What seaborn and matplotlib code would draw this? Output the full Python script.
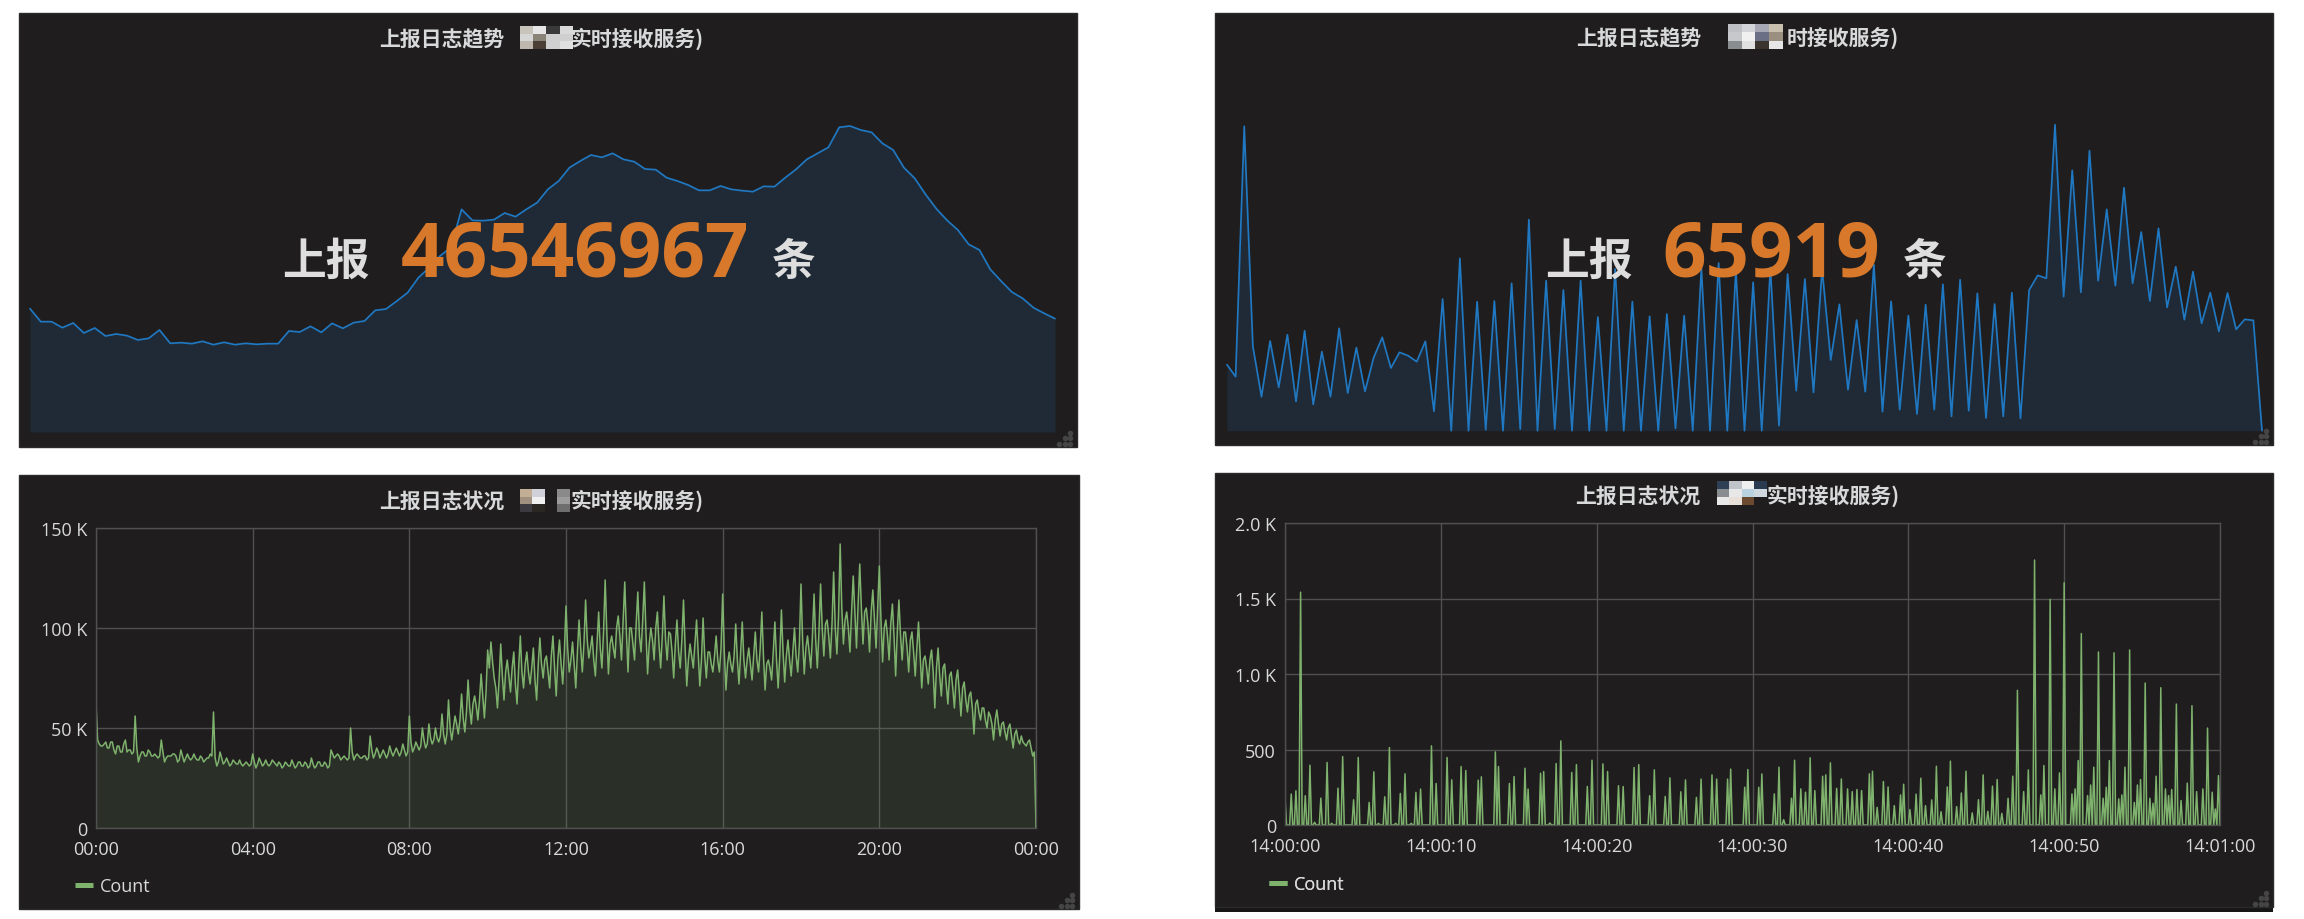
import numpy as np
import matplotlib
matplotlib.use("Agg")
import matplotlib.pyplot as plt
from matplotlib.colors import to_rgb
from matplotlib.lines import Line2D
from matplotlib.patches import Rectangle
import seaborn as sns

W, H = 2304, 920
PANEL = "#1f1d1e"
BLUE, GREEN = "#1F78C1", "#7EB26D"
TEXT = "#d8d9da"
ORANGE = "#d7782a"
GRID = "#505050"
CJK = ["Noto Sans CJK SC", "DejaVu Sans"]

# ---- top-left: 15-minute totals over a day (thousands, axis hidden in the source)
day_trend = [370, 331, 331, 313, 327, 297, 312, 288, 294, 289, 276, 281, 306, 266, 268, 265,
             272, 262, 269, 262, 266, 263, 265, 265, 303, 300, 317, 299, 326, 311, 328, 333,
             365, 369, 393, 418, 463, 493, 528, 553, 668, 635, 634, 637, 657, 646, 668, 688,
             728, 753, 793, 813, 831, 824, 836, 818, 811, 789, 787, 763, 753, 741, 725, 725,
             738, 728, 724, 721, 737, 736, 763, 788, 818, 836, 854, 914, 918, 906, 899, 866,
             846, 793, 761, 713, 670, 635, 606, 563, 546, 488, 453, 420, 401, 373, 356, 340]

# ---- top-right: half-second totals over a minute (relative heights, axis hidden)
minute_trend = [198, 162, 913, 253, 102, 269, 130, 288, 88, 300, 79, 237, 102, 307, 113, 249, 118,
                219, 280, 188, 235, 225, 207, 268, 58, 395, 0, 517, 0, 387, 3, 389, 0, 442, 5, 633,
                0, 450, 5, 422, 0, 450, 0, 341, 0, 485, 0, 387, 0, 343, 0, 350, 7, 345, 0, 487, 0,
                503, 0, 480, 0, 445, 0, 490, 15, 470, 120, 455, 115, 485, 212, 379, 123, 332, 117,
                498, 57, 388, 63, 345, 50, 378, 63, 439, 43, 453, 60, 412, 38, 380, 43, 414, 37,
                422, 466, 457, 918, 402, 781, 415, 840, 450, 664, 435, 729, 442, 596, 389, 607,
                370, 492, 333, 477, 322, 414, 298, 413, 304, 334, 331, 0]

# ---- bottom-left: counts through the day (K), readings on the 5-minute marks
day_counts = [62, 42, 41, 43, 40, 43, 37, 41, 38, 44, 39, 37,
              56, 33, 38, 36, 39, 36, 37, 35, 44, 33, 36, 36,
              37, 33, 39, 33, 37, 34, 37, 34, 36, 33, 35, 37,
              58, 31, 38, 32, 35, 31, 34, 32, 34, 31, 33, 31,
              37, 30, 35, 31, 34, 31, 34, 32, 33, 30, 33, 31,
              34, 30, 33, 31, 33, 30, 35, 30, 33, 31, 33, 30,
              39, 35, 37, 34, 36, 34, 50, 34, 37, 35, 36, 34,
              46, 35, 40, 35, 39, 35, 41, 36, 40, 36, 42, 36,
              56, 38, 43, 39, 50, 40, 52, 42, 50, 43, 57, 42,
              64, 44, 56, 47, 67, 48, 74, 52, 66, 54, 77, 55,
              89, 93, 75, 60, 92, 64, 84, 68, 88, 62, 96, 70,
              88, 72, 90, 64, 95, 75, 86, 70, 96, 66, 94, 72,
              111, 78, 93, 70, 104, 78, 114, 85, 96, 76, 108, 80,
              124, 77, 96, 85, 106, 84, 123, 78, 100, 84, 118, 88,
              123, 77, 100, 84, 108, 80, 116, 84, 97, 75, 104, 80,
              114, 71, 92, 80, 104, 71, 105, 75, 88, 78, 96, 78,
              117, 69, 88, 78, 102, 72, 103, 75, 90, 74, 98, 78,
              108, 69, 84, 74, 103, 70, 109, 73, 94, 76, 100, 78,
              122, 77, 96, 80, 117, 80, 122, 86, 104, 85, 128, 87,
              142, 92, 108, 88, 126, 90, 132, 92, 110, 88, 119, 90,
              131, 83, 104, 84, 112, 76, 114, 84, 98, 78, 98, 76,
              103, 70, 86, 72, 89, 60, 90, 66, 82, 62, 78, 60,
              79, 56, 73, 58, 68, 47, 64, 54, 60, 50, 56, 44,
              59, 46, 53, 44, 52, 40, 49, 42, 43, 41, 44, 36]
# readings halfway between those marks
day_counts_between = [44, 41, 42, 40, 43, 39, 41, 38, 42, 38, 39, 38,
                      40, 36, 38, 36, 38, 36, 36, 36, 38, 35, 36, 37,
                      36, 34, 36, 35, 35, 35, 35, 34, 35, 34, 35, 36,
                      35, 33, 35, 33, 33, 32, 33, 32, 32, 32, 32, 32,
                      33, 32, 33, 32, 32, 32, 33, 31, 32, 31, 32, 31,
                      32, 31, 33, 31, 32, 31, 32, 31, 33, 31, 32, 31,
                      37, 36, 36, 35, 35, 35, 38, 36, 36, 35, 36, 35,
                      39, 37, 38, 37, 37, 37, 38, 38, 38, 38, 39, 38,
                      43, 40, 41, 41, 44, 42, 45, 44, 45, 46, 47, 47,
                      50, 50, 52, 54, 55, 58, 60, 62, 61, 64, 66, 68,
                      80, 83, 70, 74, 76, 78, 76, 80, 72, 80, 78, 82,
                      78, 80, 74, 82, 82, 84, 78, 86, 80, 84, 82, 88,
                      90, 84, 82, 88, 90, 92, 94, 90, 84, 92, 90, 98,
                      98, 92, 90, 100, 96, 104, 98, 100, 92, 102, 96, 104,
                      98, 92, 94, 100, 92, 96, 94, 98, 88, 92, 88, 94,
                      90, 84, 86, 92, 88, 84, 86, 88, 82, 86, 84, 90,
                      88, 82, 82, 86, 84, 88, 84, 84, 82, 86, 84, 90,
                      86, 82, 80, 88, 84, 86, 88, 86, 84, 88, 86, 92,
                      94, 90, 88, 96, 94, 98, 100, 102, 96, 102, 100, 106,
                      110, 104, 100, 108, 108, 112, 110, 108, 102, 108, 104, 110,
                      104, 100, 96, 102, 96, 98, 96, 98, 90, 94, 88, 90,
                      86, 84, 80, 84, 78, 80, 76, 80, 72, 76, 70, 74,
                      68, 70, 64, 66, 60, 62, 58, 60, 54, 58, 52, 54,
                      52, 52, 48, 50, 46, 47, 44, 46, 42, 43, 40, 38]
day_last_count = 0
day_values = np.append(np.column_stack([day_counts, day_counts_between]).ravel(), day_last_count)
day_minutes = np.arange(len(day_values)) * 2.5
day_ticks = [0, 240, 480, 720, 960, 1200, 1440]
day_labels = ["00:00", "04:00", "08:00", "12:00", "16:00", "20:00", "00:00"]
day_yticks = [0, 50, 100, 150]
day_ylabels = ["0", "50 K", "100 K", "150 K"]

# ---- bottom-right: burst tops, tenth-of-a-second index and count; the line sits at 0 between them
burst_index = [0, 4, 7, 10, 13, 16, 19, 23, 27, 30, 34, 37, 44, 47, 54, 57, 60, 64, 67, 71, 74, 77, 81,
               84, 87, 94, 97, 104, 107, 113, 116, 124, 126, 135, 137, 144, 147, 154, 156, 164, 166,
               170, 174, 177, 184, 187, 194, 197, 204, 207, 214, 217, 224, 227, 234, 237, 244, 247,
               254, 257, 264, 267, 274, 277, 284, 286, 295, 297, 304, 306, 314, 317, 320, 325, 327,
               331, 334, 337, 340, 345, 347, 350, 354, 357, 361, 364, 367, 370, 375, 377, 380, 384,
               387, 391, 395, 397, 401, 405, 408, 411, 415, 418, 421, 425, 427, 431, 434, 437, 441,
               445, 448, 451, 454, 457, 460, 464, 467, 470, 474, 477, 481, 485, 487, 491, 494, 497,
               500, 505, 507, 509, 511, 515, 517, 519, 522, 525, 527, 529, 532, 535, 537, 539, 542,
               545, 547, 549, 552, 555, 557, 559, 562, 565, 567, 569, 572, 575, 579, 582, 585, 589,
               592, 595, 597, 599]
burst_count = [178, 205, 227, 1542, 194, 396, 18, 178, 414, 11, 244, 453, 167, 447, 150, 352, 11, 187,
               513, 11, 209, 339, 11, 216, 238, 524, 275, 447, 299, 387, 361, 297, 319, 484, 387, 275,
               321, 376, 238, 343, 354, 13, 407, 557, 348, 400, 255, 429, 405, 354, 260, 255, 381, 400,
               194, 365, 189, 312, 220, 299, 183, 304, 332, 304, 304, 370, 250, 367, 250, 338, 206, 383,
               35, 177, 429, 239, 217, 445, 228, 323, 332, 412, 243, 305, 239, 221, 235, 228, 339, 356,
               117, 288, 252, 128, 199, 270, 102, 204, 310, 128, 166, 389, 88, 252, 423, 122, 212, 356,
               80, 168, 332, 91, 257, 301, 77, 177, 323, 892, 221, 365, 1755, 199, 394, 1494, 239, 345,
               1604, 206, 239, 427, 1268, 195, 265, 383, 1146, 177, 250, 427, 1140, 173, 199, 383, 1159,
               150, 265, 301, 940, 177, 144, 323, 909, 239, 195, 235, 801, 162, 277, 790, 221, 239, 642,
               217, 106, 327]
minute_ticks = [0, 10, 20, 30, 40, 50, 60]
minute_labels = ["14:00:00", "14:00:10", "14:00:20", "14:00:30", "14:00:40", "14:00:50", "14:01:00"]
minute_yticks = [0, 500, 1000, 1500, 2000]
minute_ylabels = ["0", "500", "1.0 K", "1.5 K", "2.0 K"]

minute_series = np.zeros(601)
minute_series[burst_index] = burst_count
minute_seconds = np.arange(601) / 10

trend_title = "上报日志趋势"
status_title = "上报日志状况"

sns.set_theme(style="dark")
plt.rcParams["font.family"] = ["Open Sans", "Noto Sans CJK SC", "DejaVu Sans"]
plt.rcParams["axes.unicode_minus"] = False

fig = plt.figure(figsize=(W / 100, H / 100), dpi=100, facecolor="white")


def px_axes(l, t, r, b, z=2):
    ax = fig.add_axes([l / W, 1 - b / H, (r - l) / W, (b - t) / H], zorder=z)
    ax.patch.set_alpha(0)
    return ax


# background layer in pixel coordinates
bg = fig.add_axes([0, 0, 1, 1], zorder=0)
bg.set_xlim(0, W)
bg.set_ylim(H, 0)
bg.axis("off")
panels = [(19, 14, 1077, 448), (1215, 14, 2273, 446), (19, 476, 1079, 910), (1215, 474, 2273, 908)]
bg.add_patch(Rectangle((1215, 908), 1058, 5, fc="#161616", ec="none"))
for l, t, r, b in panels:
    bg.add_patch(Rectangle((l, t), r - l, b - t, fc=PANEL, ec="#2a2a2a", lw=1))


def sparkline(box, xs, ys, ymax):
    ax = px_axes(*box)
    sns.lineplot(x=xs, y=ys, ax=ax, color=BLUE, linewidth=1.25, legend=False, errorbar=None)
    ax.fill_between(xs, ys, 0, color=BLUE, alpha=0.15, lw=0)
    ax.set(xlim=(xs[0], xs[-1]), ylim=(0, ymax), xlabel=None, ylabel=None)
    ax.axis("off")
    for ln in ax.lines:
        ln.set_clip_on(False)


sparkline((30, 40, 1055, 433), np.arange(len(day_trend)), np.array(day_trend), 1179)
sparkline((1227, 40, 2262, 431.7), np.arange(len(minute_trend)), np.array(minute_trend), 1175)


def graph(box, xs, ys, xticks, xlabels, yticks, ylabels, xlim, ylim, lw):
    ax = px_axes(*box)
    sns.lineplot(x=xs, y=ys, ax=ax, color=GREEN, linewidth=lw, legend=False, errorbar=None)
    ax.fill_between(xs, ys, 0, color=GREEN, alpha=0.12, lw=0)
    ax.set(xlim=xlim, ylim=ylim, xlabel=None, ylabel=None)
    ax.set_xticks(xticks, xlabels)
    ax.set_yticks(yticks, ylabels)
    ax.tick_params(axis="both", length=0, labelsize=13, labelcolor=TEXT)
    ax.tick_params(axis="x", pad=8.5)
    ax.tick_params(axis="y", pad=6.5)
    ax.set_axisbelow(True)
    ax.grid(True, color=GRID, linewidth=1)
    for s in ax.spines.values():
        s.set_visible(True)
        s.set_color(GRID)
        s.set_linewidth(1)
    return ax


graph((96, 529, 1036, 829), day_minutes, day_values, day_ticks, day_labels,
      day_yticks, day_ylabels, (0, 1440), (0, 150), 1.1)
graph((1285, 524, 2220, 826), minute_seconds, minute_series, minute_ticks, minute_labels,
      minute_yticks, minute_ylabels, (0, 60), (0, 2000), 1.1)

# overlay: titles, big numbers, legend, grips
ov = fig.add_axes([0, 0, 1, 1], zorder=5)
ov.patch.set_alpha(0)
ov.axis("off")


def mosaic(rows, l, t, r, b):
    img = np.array([[to_rgb(c) for c in row] for row in rows])
    ov.imshow(img, extent=(l, r, b, t), aspect="auto", interpolation="nearest", zorder=3)


mosaic([["#c9c4bb", "#e6e6e6", "#3a3a3a", "#d9d9d9"],
        ["#d5d5d5", "#8a8378", "#cfcfcf", "#cfcfcf"],
        ["#bdb7ae", "#4c3f36", "#d0d0d0", "#e0e0e0"]], 519.5, 27, 572, 50)
mosaic([["#bfc0c5", "#d2d4da", "#a7a8b5", "#c8bfae"],
        ["#c6c8cc", "#f0f0f0", "#6a6f85", "#9a8f80"],
        ["#8a8d90", "#e0e0e0", "#3b332e", "#e6e6e6"]], 1728, 25, 1783, 50)
mosaic([["#c2ae95", "#d0d0d8", PANEL, "#8a8a8a"],
        ["#a09080", "#f0f0f0", PANEL, "#9c9c9c"],
        ["#3c3a40", "#2a2622", PANEL, "#6e6e6e"]], 519.5, 490, 569, 513)
mosaic([["#2f3f55", "#c0c4c8", "#f0f0f0", "#2a3a50"],
        ["#8a8d90", "#e8e8e8", "#b9d2e0", "#cfd8de"],
        ["#e8e8e8", "#e8e0d8", "#6b4a30", PANEL]], 1717, 482, 1767, 506)
ov.set_xlim(0, W)
ov.set_ylim(H, 0)


def title(x, y, s):
    ov.text(x, y, s, family=CJK, fontsize=15, fontweight="bold", color=TEXT, ha="left", va="baseline")


title(379, 46, trend_title)
title(571, 46, "实时接收服务)")
title(1576, 45, trend_title)
title(1787, 45, "时接收服务)")
title(379, 508, status_title)
title(571, 508, "实时接收服务)")
title(1575, 503, status_title)
title(1767, 503, "实时接收服务)")


def big(x_word, x_num, x_unit, num):
    ov.text(x_word, 275, "上报", family=CJK, fontsize=31.5, fontweight="bold", color="#dedede", va="baseline")
    ov.text(x_num, 277, num, family="Open Sans", fontsize=55, fontweight="bold", color=ORANGE, va="baseline")
    ov.text(x_unit, 275, "条", family=CJK, fontsize=31.5, fontweight="bold", color="#dedede", va="baseline")


big(282, 401, 772, "46546967")
big(1545, 1662, 1903, "65919")

for (l, t, r, b) in panels:
    for dx, dy in [(-18.5, -3), (-12.5, -3), (-7, -3), (-12.5, -9), (-7, -9), (-7, -14)]:
        ov.scatter([r + dx], [b + dy], s=16, color="#454545", lw=0, zorder=3)

for x, y in [(75, 878.5), (1269, 876.5)]:
    h = Line2D([], [], color=GREEN, lw=3.6, solid_capstyle="butt")
    ov.add_artist(ov.legend([h], ["Count"], loc="upper left", bbox_to_anchor=(x / W, 1 - y / H),
                            bbox_transform=fig.transFigure, frameon=False, fontsize=13,
                            labelcolor=TEXT, borderpad=0, borderaxespad=0, handlelength=1.0,
                            handletextpad=0.4))

fig.savefig("out.png", dpi=100, facecolor="white")
